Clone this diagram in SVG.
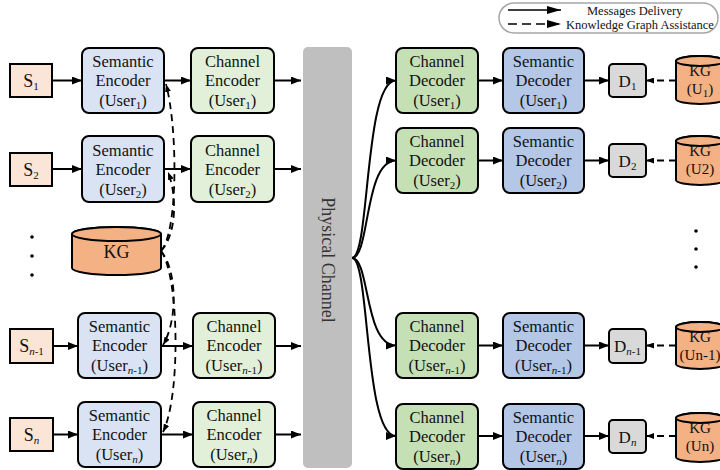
<svg xmlns="http://www.w3.org/2000/svg" width="720" height="470" viewBox="0 0 720 470">
<style>
.b{stroke:#000;stroke-width:2}
.se{fill:#dae3f3}.ce{fill:#e2f0d9}.cd{fill:#c5e0b4}.sd{fill:#b4c7e7}.s{fill:#fbe5d6}.d{fill:#d9d9d9}.kg{fill:#f4b183}
.t{font-family:"Liberation Serif","Times New Roman",serif;font-size:16.5px;text-anchor:middle;fill:#111}
.ts{font-size:18px}.td{font-size:17px}.tk{font-size:15px}
.sub{font-size:11px}
.ln{stroke:#000;stroke-width:2;fill:none}
.dl{stroke:#000;stroke-width:1.8;fill:none;stroke-dasharray:7 5}
.lg{font-family:"Liberation Serif","Times New Roman",serif;font-size:12.5px;fill:#111}
</style>
<defs>
<marker id="ah" viewBox="0 0 10 8" refX="10" refY="4" markerWidth="10" markerHeight="8" markerUnits="userSpaceOnUse" orient="auto"><path d="M0,0 L10,4 L0,8 z" fill="#000"/></marker>
<marker id="as" viewBox="0 0 8 6" refX="8" refY="3" markerWidth="8" markerHeight="6" markerUnits="userSpaceOnUse" orient="auto"><path d="M0,0 L8,3 L0,6 z" fill="#000"/></marker>
<marker id="al" viewBox="0 0 14 8" refX="14" refY="4" markerWidth="14" markerHeight="8" markerUnits="userSpaceOnUse" orient="auto"><path d="M0,0 L14,4 L0,8 z" fill="#000"/></marker>
</defs>

<g id="legend">
<rect x="499" y="3" width="219" height="30" rx="15" fill="#fff" stroke="#a6a6a6" stroke-width="1.5"/>
<line x1="508" y1="10" x2="561" y2="10" stroke="#000" stroke-width="1.5" marker-end="url(#al)"/>
<line x1="508" y1="24" x2="561" y2="24" stroke="#000" stroke-width="1.5" stroke-dasharray="9 5" marker-end="url(#al)"/>
<text class="lg" x="587" y="15">Messages Delivery</text>
<text class="lg" x="566" y="28.5">Knowledge Graph Assistance</text>
</g>

<g id="physical-channel">
<rect x="303" y="47" width="49" height="421" rx="5" fill="#bfbfbf"/>
<text class="t" font-size="18" fill="#333" transform="translate(328,260) rotate(90)" y="6" style="font-size:18px;fill:#333">Physical Channel</text>
</g>

<!-- Sources -->
<g id="s1"><rect class="b s" x="10" y="64" width="42" height="33"/><text class="t ts" x="31" y="87">S<tspan class="sub" dy="3">1</tspan></text></g>
<g id="s2"><rect class="b s" x="10" y="153" width="42" height="33"/><text class="t ts" x="31" y="176">S<tspan class="sub" dy="3">2</tspan></text></g>
<g id="sn1"><rect class="b s" x="10" y="329" width="43" height="34"/><text class="t ts" x="31.5" y="352">S<tspan class="sub" dy="3" font-style="italic">n</tspan><tspan class="sub">-1</tspan></text></g>
<g id="sn"><rect class="b s" x="10" y="418" width="43" height="33"/><text class="t ts" x="31.5" y="441">S<tspan class="sub" dy="3" font-style="italic">n</tspan></text></g>

<!-- Semantic encoders -->
<g id="se1"><rect class="b se" x="82" y="48" width="82" height="65" rx="7"/><text class="t" x="123" y="67">Semantic</text><text class="t" x="123" y="86">Encoder</text><text class="t" x="123" y="106">(User<tspan class="sub" dy="3">1</tspan><tspan dy="-3">)</tspan></text></g>
<g id="se2"><rect class="b se" x="82" y="136" width="82" height="66" rx="7"/><text class="t" x="123" y="155.5">Semantic</text><text class="t" x="123" y="174.5">Encoder</text><text class="t" x="123" y="194.5">(User<tspan class="sub" dy="3">2</tspan><tspan dy="-3">)</tspan></text></g>
<g id="sen1"><rect class="b se" x="78" y="313" width="83" height="65" rx="7"/><text class="t" x="119.5" y="332">Semantic</text><text class="t" x="119.5" y="351">Encoder</text><text class="t" x="119.5" y="371">(User<tspan class="sub" dy="3" font-style="italic">n</tspan><tspan class="sub">-1</tspan><tspan dy="-3">)</tspan></text></g>
<g id="sen"><rect class="b se" x="78" y="402" width="83" height="65" rx="7"/><text class="t" x="119.5" y="421">Semantic</text><text class="t" x="119.5" y="440">Encoder</text><text class="t" x="119.5" y="460">(User<tspan class="sub" dy="3" font-style="italic">n</tspan><tspan dy="-3">)</tspan></text></g>

<!-- Channel encoders -->
<g id="ce1"><rect class="b ce" x="191" y="48" width="83" height="65" rx="7"/><text class="t" x="232.5" y="67">Channel</text><text class="t" x="232.5" y="86">Encoder</text><text class="t" x="232.5" y="106">(User<tspan class="sub" dy="3">1</tspan><tspan dy="-3">)</tspan></text></g>
<g id="ce2"><rect class="b ce" x="191" y="136" width="83" height="66" rx="7"/><text class="t" x="232.5" y="155.5">Channel</text><text class="t" x="232.5" y="174.5">Encoder</text><text class="t" x="232.5" y="194.5">(User<tspan class="sub" dy="3">2</tspan><tspan dy="-3">)</tspan></text></g>
<g id="cen1"><rect class="b ce" x="193" y="313" width="82" height="65" rx="7"/><text class="t" x="234" y="332">Channel</text><text class="t" x="234" y="351">Encoder</text><text class="t" x="234" y="371">(User<tspan class="sub" dy="3" font-style="italic">n</tspan><tspan class="sub">-1</tspan><tspan dy="-3">)</tspan></text></g>
<g id="cen"><rect class="b ce" x="193" y="402" width="82" height="65" rx="7"/><text class="t" x="234" y="421">Channel</text><text class="t" x="234" y="440">Encoder</text><text class="t" x="234" y="460">(User<tspan class="sub" dy="3" font-style="italic">n</tspan><tspan dy="-3">)</tspan></text></g>

<!-- Central KG -->
<g id="kg">
<path class="b kg" d="M72,234 A44.5,7 0 0 1 161,234 L161,268 A44.5,7 0 0 1 72,268 Z"/>
<ellipse class="b kg" cx="116.5" cy="234" rx="44.5" ry="7"/>
<text class="t ts" x="116.5" y="258">KG</text>
</g>

<!-- Channel decoders -->
<g id="cd1"><rect class="b cd" x="396" y="48" width="82" height="65" rx="7"/><text class="t" x="437" y="67">Channel</text><text class="t" x="437" y="86">Decoder</text><text class="t" x="437" y="106">(User<tspan class="sub" dy="3">1</tspan><tspan dy="-3">)</tspan></text></g>
<g id="cd2"><rect class="b cd" x="396" y="128" width="82" height="65" rx="7"/><text class="t" x="437" y="147">Channel</text><text class="t" x="437" y="166">Decoder</text><text class="t" x="437" y="186">(User<tspan class="sub" dy="3">2</tspan><tspan dy="-3">)</tspan></text></g>
<g id="cdn1"><rect class="b cd" x="396" y="313" width="82" height="65" rx="7"/><text class="t" x="437" y="332">Channel</text><text class="t" x="437" y="351">Decoder</text><text class="t" x="437" y="371">(User<tspan class="sub" dy="3" font-style="italic">n</tspan><tspan class="sub">-1</tspan><tspan dy="-3">)</tspan></text></g>
<g id="cdn"><rect class="b cd" x="396" y="404" width="82" height="65" rx="7"/><text class="t" x="437" y="423">Channel</text><text class="t" x="437" y="442">Decoder</text><text class="t" x="437" y="462">(User<tspan class="sub" dy="3" font-style="italic">n</tspan><tspan dy="-3">)</tspan></text></g>

<!-- Semantic decoders -->
<g id="sd1"><rect class="b sd" x="503" y="48" width="81" height="65" rx="7"/><text class="t" x="543.5" y="67">Semantic</text><text class="t" x="543.5" y="86">Decoder</text><text class="t" x="543.5" y="106">(User<tspan class="sub" dy="3">1</tspan><tspan dy="-3">)</tspan></text></g>
<g id="sd2"><rect class="b sd" x="503" y="128" width="81" height="65" rx="7"/><text class="t" x="543.5" y="147">Semantic</text><text class="t" x="543.5" y="166">Decoder</text><text class="t" x="543.5" y="186">(User<tspan class="sub" dy="3">2</tspan><tspan dy="-3">)</tspan></text></g>
<g id="sdn1"><rect class="b sd" x="503" y="313" width="81" height="65" rx="7"/><text class="t" x="543.5" y="332">Semantic</text><text class="t" x="543.5" y="351">Decoder</text><text class="t" x="543.5" y="371">(User<tspan class="sub" dy="3" font-style="italic">n</tspan><tspan class="sub">-1</tspan><tspan dy="-3">)</tspan></text></g>
<g id="sdn"><rect class="b sd" x="503" y="404" width="81" height="65" rx="7"/><text class="t" x="543.5" y="423">Semantic</text><text class="t" x="543.5" y="442">Decoder</text><text class="t" x="543.5" y="462">(User<tspan class="sub" dy="3" font-style="italic">n</tspan><tspan dy="-3">)</tspan></text></g>

<!-- D boxes -->
<g id="d1"><rect class="b d" x="609" y="64" width="37" height="33" rx="4"/><text class="t td" x="627.5" y="86.5">D<tspan class="sub" dy="3">1</tspan></text></g>
<g id="d2"><rect class="b d" x="609" y="144" width="37" height="33" rx="4"/><text class="t td" x="627.5" y="166.5">D<tspan class="sub" dy="3">2</tspan></text></g>
<g id="dn1"><rect class="b d" x="609" y="329" width="37" height="34" rx="4"/><text class="t td" x="627.5" y="352">D<tspan class="sub" dy="3" font-style="italic">n</tspan><tspan class="sub">-1</tspan></text></g>
<g id="dn"><rect class="b d" x="609" y="420" width="37" height="33" rx="4"/><text class="t td" x="627.5" y="442.5">D<tspan class="sub" dy="3" font-style="italic">n</tspan></text></g>

<!-- User KGs -->
<g id="kg1"><path class="b kg" d="M676,61 A24,5 0 0 1 724,61 L724,99 A24,5 0 0 1 676,99 Z"/><ellipse class="b kg" cx="700" cy="61" rx="24" ry="5"/><text class="t tk" x="700" y="76">KG</text><text class="t tk" x="700" y="94">(U<tspan class="sub" dy="3">1</tspan><tspan dy="-3">)</tspan></text></g>
<g id="kg2"><path class="b kg" d="M676,141 A24,5 0 0 1 724,141 L724,180 A24,5 0 0 1 676,180 Z"/><ellipse class="b kg" cx="700" cy="141" rx="24" ry="5"/><text class="t tk" x="700" y="156">KG</text><text class="t tk" x="700" y="174">(U2)</text></g>
<g id="kgn1"><path class="b kg" d="M676,327 A24,5 0 0 1 724,327 L724,364 A24,5 0 0 1 676,364 Z"/><ellipse class="b kg" cx="700" cy="327" rx="24" ry="5"/><text class="t tk" x="700" y="342">KG</text><text class="t tk" x="700" y="360">(Un-1)</text></g>
<g id="kgn"><path class="b kg" d="M676,418 A24,5 0 0 1 724,418 L724,457 A24,5 0 0 1 676,457 Z"/><ellipse class="b kg" cx="700" cy="418" rx="24" ry="5"/><text class="t tk" x="700" y="433">KG</text><text class="t tk" x="700" y="451">(Un)</text></g>

<g id="dots">
<circle cx="32" cy="237" r="1.8"/><circle cx="32" cy="256" r="1.8"/><circle cx="32" cy="275" r="1.8"/>
<circle cx="696" cy="231" r="1.8"/><circle cx="696" cy="249" r="1.8"/><circle cx="696" cy="267" r="1.8"/>
</g>

<g id="connectors">
<line class="ln" x1="52" y1="80.5" x2="82" y2="80.5" marker-end="url(#ah)"/>
<line class="ln" x1="164" y1="80.5" x2="191" y2="80.5" marker-end="url(#ah)"/>
<line class="ln" x1="274" y1="80.5" x2="301" y2="80.5" marker-end="url(#ah)"/>
<line class="ln" x1="52" y1="169" x2="82" y2="169" marker-end="url(#ah)"/>
<line class="ln" x1="164" y1="169" x2="191" y2="169" marker-end="url(#ah)"/>
<line class="ln" x1="274" y1="169" x2="301" y2="169" marker-end="url(#ah)"/>
<line class="ln" x1="53" y1="346" x2="78" y2="346" marker-end="url(#ah)"/>
<line class="ln" x1="161" y1="346" x2="193" y2="346" marker-end="url(#ah)"/>
<line class="ln" x1="275" y1="346" x2="301" y2="346" marker-end="url(#ah)"/>
<line class="ln" x1="53" y1="434.5" x2="78" y2="434.5" marker-end="url(#ah)"/>
<line class="ln" x1="161" y1="434.5" x2="193" y2="434.5" marker-end="url(#ah)"/>
<line class="ln" x1="275" y1="434.5" x2="301" y2="434.5" marker-end="url(#ah)"/>

<path class="dl" d="M161,251 C178,232 178,130 166,84" marker-end="url(#as)"/>
<path class="dl" d="M161,251 C177,234 177,195 168,172" marker-end="url(#as)"/>
<path class="dl" d="M161,251 C177,270 178,320 163,345" marker-end="url(#as)"/>
<path class="dl" d="M161,251 C179,275 181,395 163,432" marker-end="url(#as)"/>

<path class="ln" d="M352,258 C370,258 364,80.5 396,80.5" marker-end="url(#ah)"/>
<path class="ln" d="M352,258 C370,258 364,160.5 396,160.5" marker-end="url(#ah)"/>
<path class="ln" d="M352,258 C370,258 364,345.5 396,345.5" marker-end="url(#ah)"/>
<path class="ln" d="M352,258 C370,258 364,436 396,436" marker-end="url(#ah)"/>

<line class="ln" x1="478" y1="80.5" x2="503" y2="80.5" marker-end="url(#ah)"/>
<line class="ln" x1="584" y1="80.5" x2="609" y2="80.5" marker-end="url(#ah)"/>
<line class="ln" x1="478" y1="160.5" x2="503" y2="160.5" marker-end="url(#ah)"/>
<line class="ln" x1="584" y1="160.5" x2="609" y2="160.5" marker-end="url(#ah)"/>
<line class="ln" x1="478" y1="345.5" x2="503" y2="345.5" marker-end="url(#ah)"/>
<line class="ln" x1="584" y1="345.5" x2="609" y2="345.5" marker-end="url(#ah)"/>
<line class="ln" x1="478" y1="436" x2="503" y2="436" marker-end="url(#ah)"/>
<line class="ln" x1="584" y1="436" x2="609" y2="436" marker-end="url(#ah)"/>

<line class="dl" x1="676" y1="80.5" x2="646" y2="80.5" stroke-dasharray="10 6" marker-end="url(#as)"/>
<line class="dl" x1="676" y1="160.5" x2="646" y2="160.5" stroke-dasharray="10 6" marker-end="url(#as)"/>
<line class="dl" x1="676" y1="345.5" x2="646" y2="345.5" stroke-dasharray="10 6" marker-end="url(#as)"/>
<line class="dl" x1="676" y1="436" x2="646" y2="436" stroke-dasharray="10 6" marker-end="url(#as)"/>
</g>
</svg>
